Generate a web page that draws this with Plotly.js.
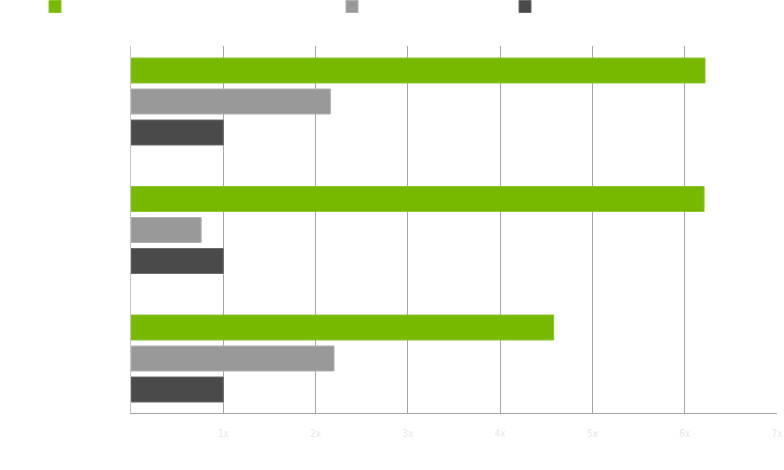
<!DOCTYPE html>
<html>
<head>
<meta charset="utf-8">
<script src="https://cdn.plot.ly/plotly-3.0.1.min.js"></script>
<style>
  html, body { margin: 0; padding: 0; background: #fff; }
  #chart { width: 784px; height: 470px; }
</style>
</head>
<body>
<div id="chart"></div>
<script>
// categories top to bottom
const categories = ['Workload 1', 'Workload 2', 'Workload 3'];
const seriesNames = ['Series 1', 'Series 2', 'Series 3'];
const greenValues = [6.22, 6.21, 4.58];
const grayValues = [2.16, 0.76, 2.20];
const darkValues = [1.0, 1.0, 1.0];
const tickValues = [1, 2, 3, 4, 5, 6, 7];
const tickLabels = ['1x', '2x', '3x', '4x', '5x', '6x', '7x'];

const colors = ['#76b900', '#999999', '#4a4a4a'];
const edges = ['#8cc62a', '#b0b0b0', '#6a6a6a'];
const allValues = [greenValues, grayValues, darkValues];
const legendIds = ['legend', 'legend2', 'legend3'];

const traces = allValues.map((vals, i) => ({
    type: 'bar',
    orientation: 'h',
    name: seriesNames[i],
    x: vals,
    y: categories,
    marker: { color: colors[i], line: { color: edges[i], width: 1 } },
    legend: legendIds[i],
    hoverinfo: 'x'
}));

// legend positions in pixels, turned into paper coords
function legendAt(px) {
    return {
        x: (px - 131) / 646,
        xanchor: 'left',
        y: (413 + 8) / 367,
        yanchor: 'top',
        orientation: 'h',
        bgcolor: 'rgba(0,0,0,0)',
        font: { color: '#ffffff', size: 11, family: 'Roboto, sans-serif' }
    };
}

const layout = {
    width: 784,
    height: 470,
    margin: { l: 131, r: 7, t: 46, b: 57, autoexpand: false },
    paper_bgcolor: '#ffffff',
    plot_bgcolor: '#ffffff',
    barmode: 'group',
    bargap: 0.276,
    bargroupgap: 0.194,
    showlegend: true,
    legend: legendAt(35),
    legend2: legendAt(332),
    legend3: legendAt(505),
    xaxis: {
        range: [0, 7],
        tickvals: tickValues,
        ticktext: tickLabels,
        showgrid: true,
        gridcolor: '#a6a6a6',
        gridwidth: 1,
        zeroline: false,
        showline: true,
        linecolor: '#a6a6a6',
        linewidth: 1,
        ticks: '',
        ticklabelstandoff: 11,
        tickfont: { color: '#e8e8e8', size: 10, family: 'DejaVu Sans Condensed, sans-serif' },
        fixedrange: true
    },
    yaxis: {
        type: 'category',
        range: [2.424, -0.432],
        showgrid: false,
        zeroline: false,
        showline: true,
        linecolor: '#c4c4c4',
        linewidth: 1.5,
        ticks: '',
        tickfont: { color: '#ffffff', size: 12, family: 'Roboto, sans-serif' },
        fixedrange: true
    }
};

Plotly.newPlot('chart', traces, layout, { displayModeBar: false, staticPlot: true });
</script>
</body>
</html>
